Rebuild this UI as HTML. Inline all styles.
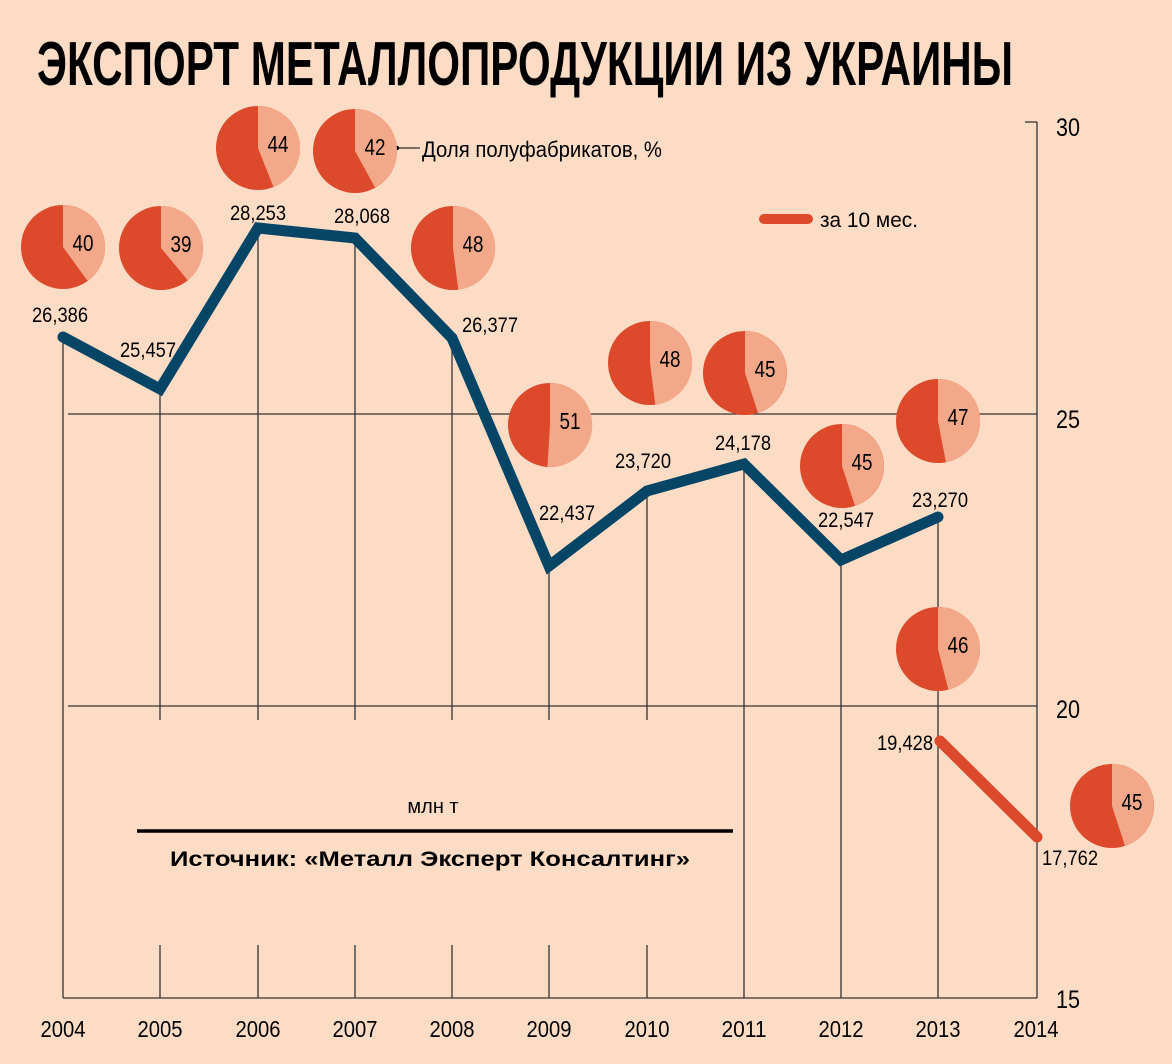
<!DOCTYPE html>
<html><head><meta charset="utf-8"><style>
html,body{margin:0;padding:0;background:#fddcc6;}
svg{display:block}
text{font-family:"Liberation Sans Narrow","Liberation Sans",sans-serif;fill:#000}
</style></head><body>
<svg id="s" width="1172" height="1064" viewBox="0 0 1172 1064" xmlns="http://www.w3.org/2000/svg">
<rect width="1172" height="1064" fill="#fddcc6"/>
<text x="37" y="85" font-size="62" font-weight="bold" textLength="976" lengthAdjust="spacingAndGlyphs">ЭКСПОРТ МЕТАЛЛОПРОДУКЦИИ ИЗ УКРАИНЫ</text>
<g stroke="#333" stroke-width="1.3" fill="none">
<line x1="68" y1="414" x2="1037" y2="414"/>
<line x1="68" y1="706" x2="1037" y2="706"/>
<line x1="63" y1="998" x2="1037" y2="998"/>
<line x1="1037" y1="122" x2="1037" y2="998"/>
<line x1="1025" y1="122" x2="1037" y2="122"/>
<line x1="63" y1="337" x2="63" y2="998"/>
<line x1="160" y1="387" x2="160" y2="720"/><line x1="160" y1="945" x2="160" y2="998"/>
<line x1="258" y1="224" x2="258" y2="720"/><line x1="258" y1="945" x2="258" y2="998"/>
<line x1="355" y1="235" x2="355" y2="720"/><line x1="355" y1="945" x2="355" y2="998"/>
<line x1="452" y1="334" x2="452" y2="720"/><line x1="452" y1="945" x2="452" y2="998"/>
<line x1="549" y1="564" x2="549" y2="720"/><line x1="549" y1="945" x2="549" y2="998"/>
<line x1="647" y1="489" x2="647" y2="720"/><line x1="647" y1="945" x2="647" y2="998"/>
<line x1="744" y1="462" x2="744" y2="998"/>
<line x1="841" y1="557" x2="841" y2="998"/>
<line x1="938" y1="515" x2="938" y2="998"/>
</g>
<polyline points="63,337 160,389 258,228 355,238 452,338 549,566 647,491 744,464 841,560 938,517" fill="none" stroke="#064566" stroke-width="11" stroke-linejoin="miter" stroke-linecap="round"/>
<line x1="940" y1="741" x2="1037" y2="837" stroke="#dc492b" stroke-width="11" stroke-linecap="round"/>
<line x1="764" y1="219" x2="808" y2="219" stroke="#dc492b" stroke-width="10" stroke-linecap="round"/>
<text x="820" y="227" font-size="21" textLength="98" lengthAdjust="spacingAndGlyphs">за 10 мес.</text>
<line x1="390" y1="148" x2="420" y2="148" stroke="#000" stroke-width="1"/>
<circle cx="397" cy="148" r="2.2" fill="#000"/>
<text x="422" y="157" font-size="22" textLength="240" lengthAdjust="spacingAndGlyphs">Доля полуфабрикатов, %</text>
<g font-size="21" text-anchor="middle">
<text x="60" y="322" textLength="56" lengthAdjust="spacingAndGlyphs">26,386</text>
<text x="148" y="357" textLength="56" lengthAdjust="spacingAndGlyphs">25,457</text>
<text x="258" y="220" textLength="56" lengthAdjust="spacingAndGlyphs">28,253</text>
<text x="362" y="223" textLength="56" lengthAdjust="spacingAndGlyphs">28,068</text>
<text x="490" y="332" textLength="56" lengthAdjust="spacingAndGlyphs">26,377</text>
<text x="567" y="520" textLength="56" lengthAdjust="spacingAndGlyphs">22,437</text>
<text x="643" y="468" textLength="56" lengthAdjust="spacingAndGlyphs">23,720</text>
<text x="743" y="450" textLength="56" lengthAdjust="spacingAndGlyphs">24,178</text>
<text x="846" y="527" textLength="56" lengthAdjust="spacingAndGlyphs">22,547</text>
<text x="940" y="507" textLength="56" lengthAdjust="spacingAndGlyphs">23,270</text>
<text x="905" y="750" textLength="56" lengthAdjust="spacingAndGlyphs">19,428</text>
<text x="1070" y="865" textLength="56" lengthAdjust="spacingAndGlyphs">17,762</text>
</g>
<g font-size="23" text-anchor="middle">
<text x="63" y="1037" textLength="45" lengthAdjust="spacingAndGlyphs">2004</text><text x="160" y="1037" textLength="45" lengthAdjust="spacingAndGlyphs">2005</text><text x="258" y="1037" textLength="45" lengthAdjust="spacingAndGlyphs">2006</text>
<text x="355" y="1037" textLength="45" lengthAdjust="spacingAndGlyphs">2007</text><text x="452" y="1037" textLength="45" lengthAdjust="spacingAndGlyphs">2008</text><text x="549" y="1037" textLength="45" lengthAdjust="spacingAndGlyphs">2009</text>
<text x="647" y="1037" textLength="45" lengthAdjust="spacingAndGlyphs">2010</text><text x="744" y="1037" textLength="45" lengthAdjust="spacingAndGlyphs">2011</text><text x="841" y="1037" textLength="45" lengthAdjust="spacingAndGlyphs">2012</text>
<text x="938" y="1037" textLength="45" lengthAdjust="spacingAndGlyphs">2013</text><text x="1036" y="1037" textLength="45" lengthAdjust="spacingAndGlyphs">2014</text>
</g>
<g font-size="25">
<text x="1056" y="136" textLength="24" lengthAdjust="spacingAndGlyphs">30</text><text x="1056" y="428" textLength="24" lengthAdjust="spacingAndGlyphs">25</text>
<text x="1056" y="718" textLength="24" lengthAdjust="spacingAndGlyphs">20</text><text x="1056" y="1008" textLength="24" lengthAdjust="spacingAndGlyphs">15</text>
</g>
<text x="433" y="813" font-size="20" text-anchor="middle" style="font-family:'Liberation Sans',sans-serif">млн т</text>
<line x1="137" y1="831" x2="733" y2="831" stroke="#000" stroke-width="3.5"/>
<text x="430" y="866" font-size="21" font-weight="bold" text-anchor="middle" textLength="520" lengthAdjust="spacingAndGlyphs" style="font-family:'Liberation Sans',sans-serif">Источник: «Металл Эксперт Консалтинг»</text>
<g id="pies"></g>
</svg>
<script>
var pies=[[63,247,40],[161,248,39],[258,148,44],[355,151,42],[453,248,48],[550,425,51],[650,363,48],[745,373,45],[842,466,45],[938,421,47],[938,649,46],[1112,806,45]];
var g=document.getElementById('pies'),r=42,h='';
pies.forEach(function(p){var cx=p[0],cy=p[1],a=p[2]*3.6*Math.PI/180;
var x=cx+r*Math.sin(a),y=cy-r*Math.cos(a);var large=p[2]>50?1:0;
h+='<circle cx="'+cx+'" cy="'+cy+'" r="'+r+'" fill="#dc492b"/>';
h+='<path d="M'+cx+','+cy+' L'+cx+','+(cy-r)+' A'+r+','+r+' 0 '+large+' 1 '+x.toFixed(1)+','+y.toFixed(1)+' Z" fill="#f2a889"/>';
h+='<text x="'+(cx+20)+'" y="'+(cy+4)+'" font-size="23" text-anchor="middle" textLength="21" lengthAdjust="spacingAndGlyphs">'+p[2]+'</text>';});
g.innerHTML=h;
</script>
</body></html>
